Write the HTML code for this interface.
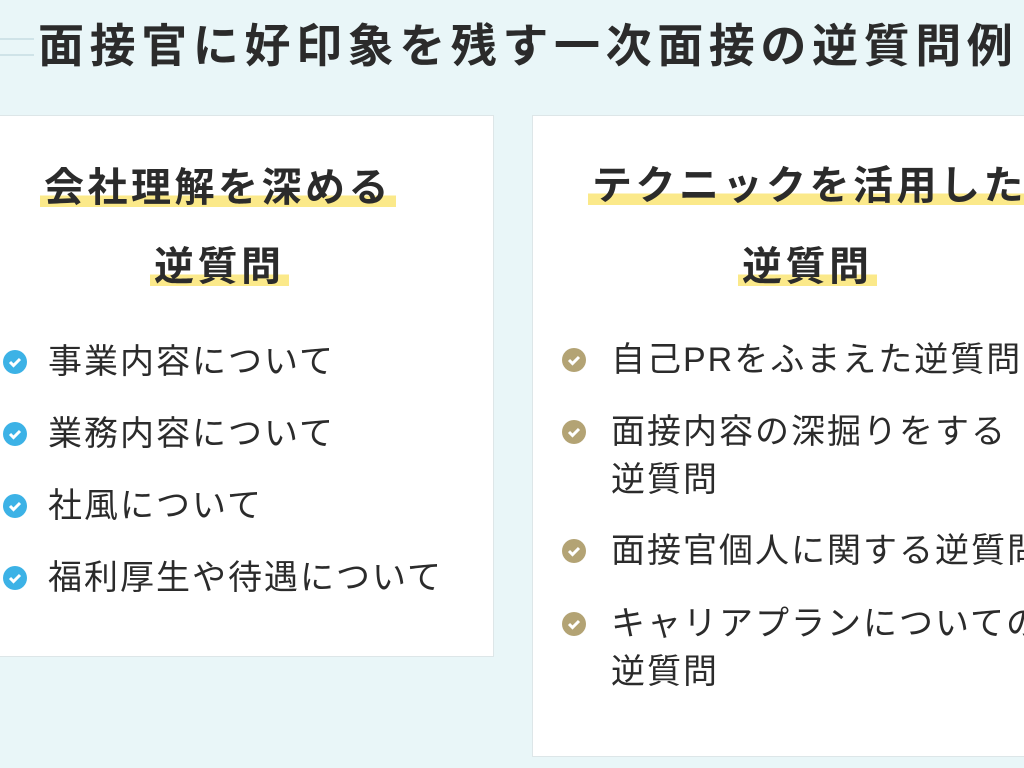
<!DOCTYPE html>
<html><head><meta charset="utf-8"><style>
body{margin:0;width:1024px;height:768px;overflow:hidden;background:#e9f6f8;font-family:"Liberation Sans","Noto Sans CJK JP",sans-serif;color:#2b2b2b;position:relative}
.t{position:absolute;white-space:nowrap}
.title{left:38px;top:18px;font-size:46px;font-weight:bold;letter-spacing:5.6px;line-height:56px}
.line{position:absolute;left:0;width:34px;height:2px;background:#cfe3e8}
.card{position:absolute;background:#fff;border:1px solid #dde6e8}
.h{font-size:40px;font-weight:bold;letter-spacing:3.5px;line-height:48px;background:linear-gradient(transparent 66%,#fbe98a 66%,#fbe98a 90%,transparent 90%);padding:0 4px}
.it{font-size:34px;letter-spacing:2px;line-height:48px}
.ic{position:absolute;width:24px;height:24px;border-radius:50%}
.ic svg{position:absolute;left:0;top:0}
</style></head><body>
<div class="line" style="top:38px"></div><div class="line" style="top:54px"></div>
<div class="t title">面接官に好印象を残す一次面接の逆質問例</div>

<div class="card" style="left:-5px;top:115px;width:497px;height:540px"></div>
<div class="card" style="left:532px;top:115px;width:520px;height:640px"></div>

<div class="t h" style="left:40px;top:164px">会社理解を深める</div>
<div class="t h" style="left:150px;top:243px">逆質問</div>
<div class="t h" style="left:588px;top:162px">テクニックを活用した</div>
<div class="t h" style="left:738px;top:243px">逆質問</div>

<div class="ic" style="left:3px;top:350px;background:#3cb2e6"><svg width="24" height="24"><path d="M7 12l3.5 3.5L17 9" stroke="#fff" stroke-width="3" fill="none"/></svg></div>
<div class="t it" style="left:48px;top:338px">事業内容について</div>
<div class="ic" style="left:3px;top:422px;background:#3cb2e6"><svg width="24" height="24"><path d="M7 12l3.5 3.5L17 9" stroke="#fff" stroke-width="3" fill="none"/></svg></div>
<div class="t it" style="left:48px;top:410px">業務内容について</div>
<div class="ic" style="left:3px;top:494px;background:#3cb2e6"><svg width="24" height="24"><path d="M7 12l3.5 3.5L17 9" stroke="#fff" stroke-width="3" fill="none"/></svg></div>
<div class="t it" style="left:48px;top:482px">社風について</div>
<div class="ic" style="left:3px;top:566px;background:#3cb2e6"><svg width="24" height="24"><path d="M7 12l3.5 3.5L17 9" stroke="#fff" stroke-width="3" fill="none"/></svg></div>
<div class="t it" style="left:48px;top:554px">福利厚生や待遇について</div>

<div class="ic" style="left:562px;top:348px;background:#b3a374"><svg width="24" height="24"><path d="M7 12l3.5 3.5L17 9" stroke="#fff" stroke-width="3" fill="none"/></svg></div>
<div class="t it" style="left:611px;top:336px">自己PRをふまえた逆質問</div>
<div class="ic" style="left:562px;top:420px;background:#b3a374"><svg width="24" height="24"><path d="M7 12l3.5 3.5L17 9" stroke="#fff" stroke-width="3" fill="none"/></svg></div>
<div class="t it" style="left:611px;top:408px">面接内容の深掘りをする<br>逆質問</div>
<div class="ic" style="left:562px;top:539px;background:#b3a374"><svg width="24" height="24"><path d="M7 12l3.5 3.5L17 9" stroke="#fff" stroke-width="3" fill="none"/></svg></div>
<div class="t it" style="left:611px;top:527px">面接官個人に関する逆質問</div>
<div class="ic" style="left:562px;top:612px;background:#b3a374"><svg width="24" height="24"><path d="M7 12l3.5 3.5L17 9" stroke="#fff" stroke-width="3" fill="none"/></svg></div>
<div class="t it" style="left:611px;top:600px">キャリアプランについての<br>逆質問</div>
</body></html>
